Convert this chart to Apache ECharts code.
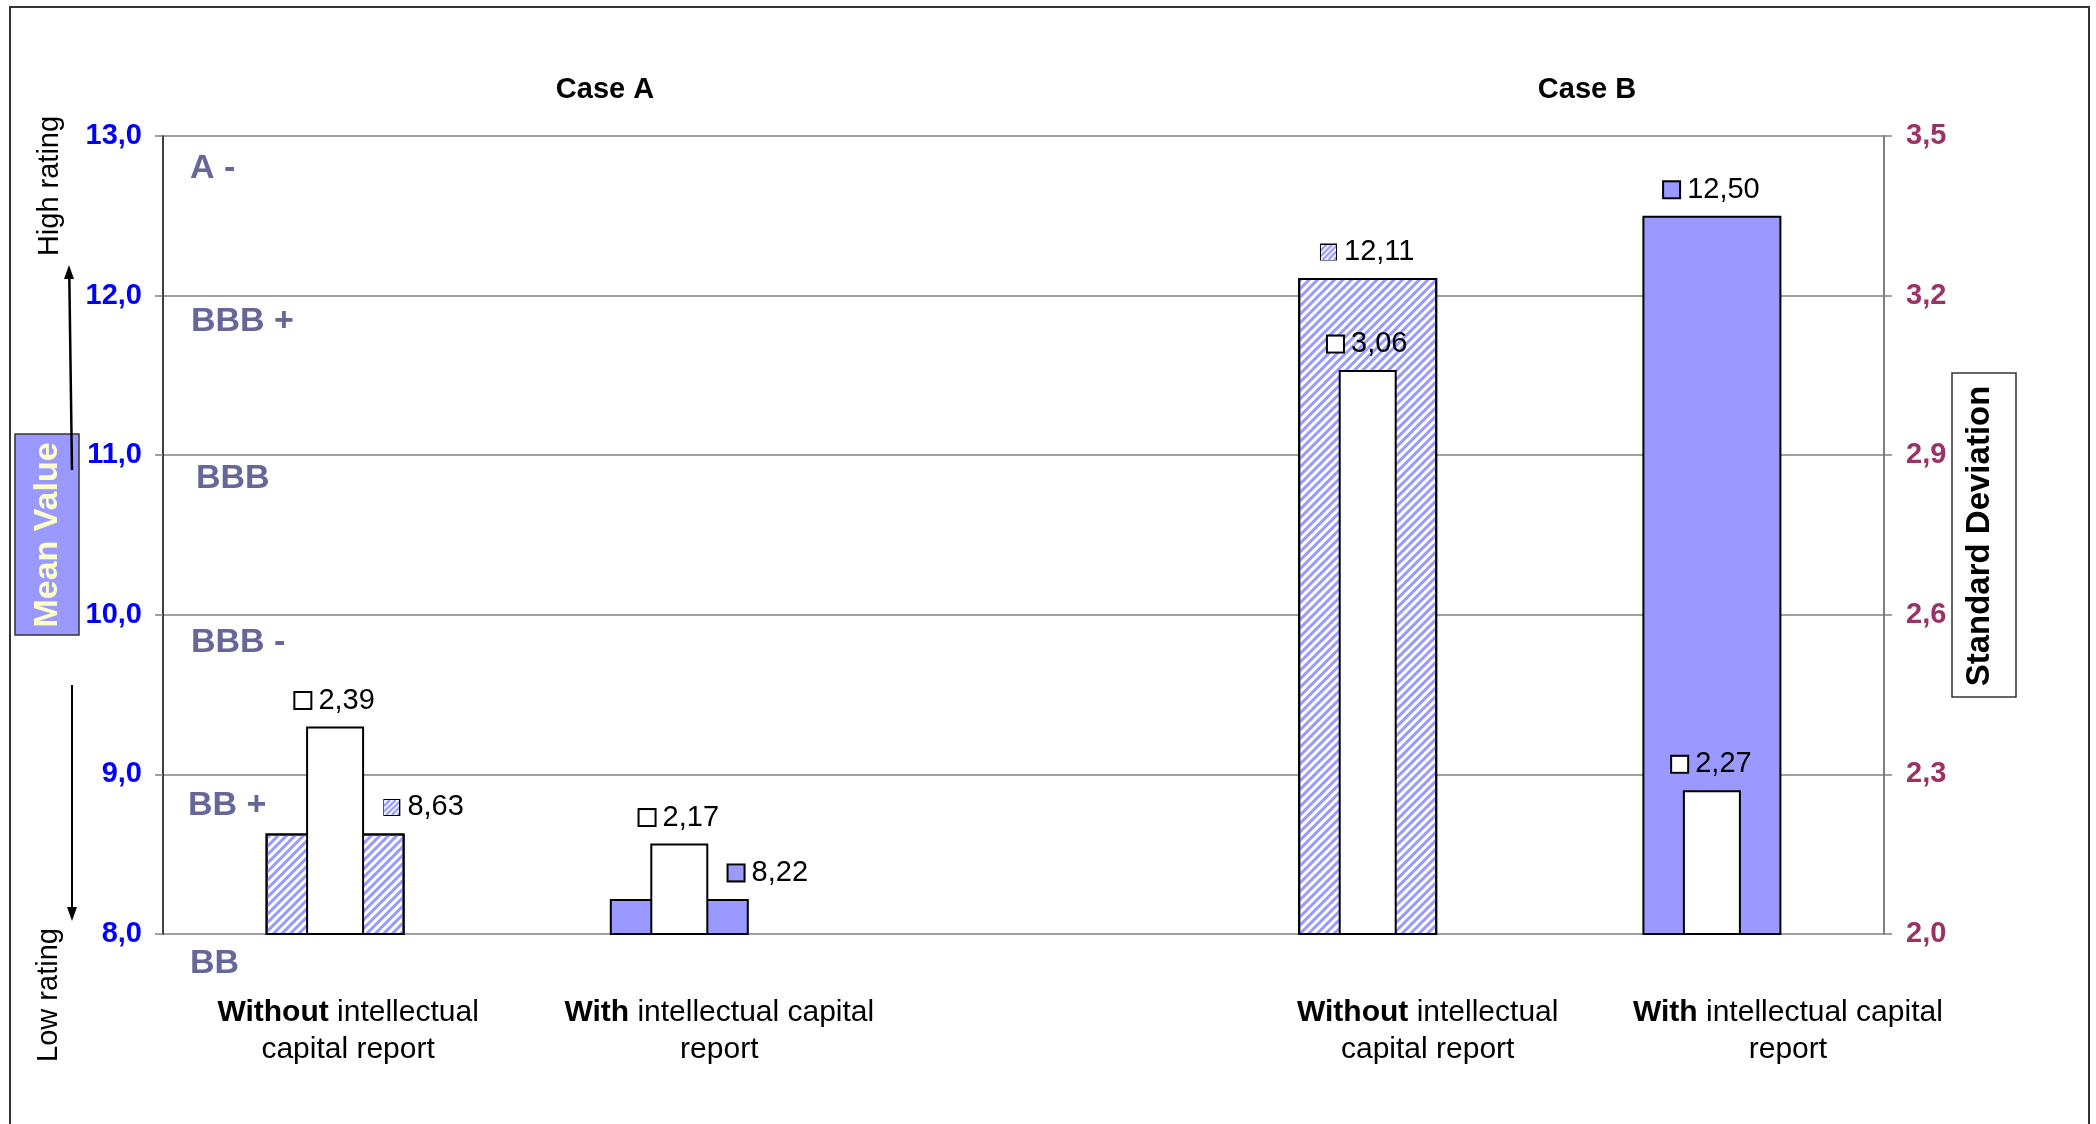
<!DOCTYPE html>
<html>
<head>
<meta charset="utf-8">
<script src="https://cdn.jsdelivr.net/npm/echarts@6/dist/echarts.min.js"></script>
<style>
html,body{margin:0;padding:0;background:#fff;}
#chart{width:2096px;height:1124px;}
</style>
</head>
<body>
<div id="chart"></div>
<script>
// ---- data ----
const categories = [
  'Without intellectual\ncapital report',
  'With intellectual capital\nreport',
  '',
  'Without intellectual\ncapital report',
  'With intellectual capital\nreport'
];
const meanValues = [8.63, 8.22, '-', 12.11, 12.50];
const stdDevValues = [2.39, 2.17, '-', 3.06, 2.27];
const caseTitles = ['Case A', 'Case B'];
const ratingLabels = ['A -', 'BBB +', 'BBB', 'BBB -', 'BB +', 'BB'];
const meanAxisName = 'Mean Value';
const stdAxisName = 'Standard Deviation';
const highLowLabels = ['High rating', 'Low rating'];

// ---- styling ----
const FONT = '"Liberation Sans", Arial, sans-serif';
const PURPLE = '#9999FF';
const fmt = v => Number(v).toFixed(2).replace('.', ',');
const isWithout = i => categories[i].indexOf('Without') === 0;
// horizontal shift (px) of each category label, as placed in the original
const catLabelShift = [13, 40, 0, 60, 76];

function makeHatch(w, h) {
  const c = document.createElement('canvas');
  c.width = w; c.height = h;
  const g = c.getContext('2d');
  g.fillStyle = '#fff'; g.fillRect(0, 0, w, h);
  g.strokeStyle = PURPLE; g.lineWidth = 2.5;
  for (let k = -h; k < w + h; k += 6) {
    g.beginPath(); g.moveTo(k, h); g.lineTo(k + h, 0); g.stroke();
  }
  return c;
}
const hatchIcon = makeHatch(16, 16);

const hatchStyle = {
  color: '#fff', borderColor: '#000', borderWidth: 2,
  decal: { symbol: 'rect', symbolSize: 1, color: PURPLE, dashArrayX: [1, 0], dashArrayY: [3, 3], rotation: -Math.PI / 4 }
};
const solidStyle = { color: PURPLE, borderColor: '#000', borderWidth: 2 };

const iconBase = { width: 15, height: 15, borderColor: '#000', borderWidth: 2 };
const labelRich = {
  iw: Object.assign({}, iconBase, { backgroundColor: '#fff' }),
  is: Object.assign({}, iconBase, { backgroundColor: PURPLE }),
  ih: Object.assign({}, iconBase, { backgroundColor: { image: hatchIcon } }),
  v: { fontSize: 29, lineHeight: 32, color: '#000', fontFamily: FONT }
};

const meanData = meanValues.map((v, i) => ({
  value: v,
  itemStyle: isWithout(i) ? hatchStyle : solidStyle,
  label: { offset: i < 2 ? [89, 0] : [0, 0] }
}));
const stdData = stdDevValues.map(v => ({ value: v }));
const catData = categories.map((c, i) => ({ value: c, textStyle: { padding: [0, 0, 0, 2 * catLabelShift[i]] } }));

const chart = echarts.init(document.getElementById('chart'), null, { renderer: 'canvas' });

const option = {
  animation: false,
  backgroundColor: '#fff',
  grid: { left: 163, right: 212, top: 136, bottom: 190, containLabel: false },
  xAxis: [
    {
      type: 'category', data: catData, gridIndex: 0,
      axisLine: { show: false }, axisTick: { show: false },
      axisLabel: {
        interval: 0, margin: 60, color: '#000', fontSize: 30, lineHeight: 37, fontFamily: FONT,
        formatter: v => {
          if (!v) return '';
          const i = v.indexOf(' ');
          return '{b|' + v.slice(0, i) + '}' + v.slice(i);
        },
        rich: { b: { fontWeight: 'bold', fontSize: 30, lineHeight: 37, fontFamily: FONT, color: '#000' } }
      }
    },
    { type: 'category', data: categories, gridIndex: 0, show: false }
  ],
  yAxis: [
    {
      type: 'value', min: 8, max: 13, interval: 1, position: 'left',
      axisLine: { show: true, lineStyle: { color: '#000', width: 1.5 } },
      axisTick: { show: true, length: 8, lineStyle: { color: '#808080', width: 1.5 } },
      splitLine: { show: true, lineStyle: { color: '#808080', width: 1.5 } },
      axisLabel: {
        color: '#0000FF', fontWeight: 'bold', fontSize: 29, fontFamily: FONT, margin: 21,
        padding: [2, 0, 0, 0],
        formatter: v => v.toFixed(1).replace('.', ',')
      }
    },
    {
      type: 'value', min: 2.0, max: 3.5, interval: 0.3, position: 'right',
      axisLine: { show: true, lineStyle: { color: '#808080', width: 2 } },
      axisTick: { show: true, length: 8, lineStyle: { color: '#808080', width: 1.5 } },
      splitLine: { show: false },
      axisLabel: {
        color: '#993366', fontWeight: 'bold', fontSize: 29, fontFamily: FONT, margin: 22,
        padding: [4, 0, 0, 0],
        formatter: v => v.toFixed(1).replace('.', ',')
      }
    }
  ],
  series: [
    {
      name: meanAxisName, type: 'bar', xAxisIndex: 0, yAxisIndex: 0,
      barWidth: 139, data: meanData, z: 2,
      label: {
        show: true, position: 'top', distance: 10, color: '#000', fontSize: 29, fontFamily: FONT,
        formatter: p => (isWithout(p.dataIndex) ? '{ih|}' : '{is|}') + ' {v|' + fmt(p.value) + '}',
        rich: labelRich
      }
    },
    {
      name: stdAxisName, type: 'bar', xAxisIndex: 1, yAxisIndex: 1,
      barWidth: 58, data: stdData, z: 3,
      itemStyle: { color: '#fff', borderColor: '#000', borderWidth: 2 },
      label: {
        show: true, position: 'top', distance: 10, color: '#000', fontSize: 29, fontFamily: FONT,
        formatter: p => '{iw|} {v|' + fmt(p.value) + '}',
        rich: labelRich
      }
    }
  ],
  graphic: [
    // outer frame
    { type: 'rect', shape: { x: 10, y: 7, width: 2079, height: 1130 }, style: { fill: 'none', stroke: '#333', lineWidth: 2 }, z: 0, silent: true },
    // case titles
    { type: 'text', x: 605, y: 90, style: { text: caseTitles[0], font: 'bold 29px ' + FONT, fill: '#000', align: 'center', verticalAlign: 'middle' } },
    { type: 'text', x: 1587, y: 90, style: { text: caseTitles[1], font: 'bold 29px ' + FONT, fill: '#000', align: 'center', verticalAlign: 'middle' } },
    // rating labels
    { type: 'text', x: 190, y: 169, style: { text: ratingLabels[0], font: 'bold 34px ' + FONT, fill: '#666699', align: 'left', verticalAlign: 'middle' } },
    { type: 'text', x: 191, y: 322, style: { text: ratingLabels[1], font: 'bold 34px ' + FONT, fill: '#666699', align: 'left', verticalAlign: 'middle' } },
    { type: 'text', x: 196, y: 479, style: { text: ratingLabels[2], font: 'bold 34px ' + FONT, fill: '#666699', align: 'left', verticalAlign: 'middle' } },
    { type: 'text', x: 191, y: 643, style: { text: ratingLabels[3], font: 'bold 34px ' + FONT, fill: '#666699', align: 'left', verticalAlign: 'middle' } },
    { type: 'text', x: 188, y: 806, style: { text: ratingLabels[4], font: 'bold 34px ' + FONT, fill: '#666699', align: 'left', verticalAlign: 'middle' } },
    { type: 'text', x: 190, y: 964, style: { text: ratingLabels[5], font: 'bold 34px ' + FONT, fill: '#666699', align: 'left', verticalAlign: 'middle' } },
    // Mean value box
    { type: 'rect', shape: { x: 15, y: 434, width: 64, height: 201 }, style: { fill: PURPLE, stroke: '#333', lineWidth: 1.5 } },
    { type: 'text', x: 48, y: 535, rotation: Math.PI / 2, style: { text: meanAxisName, font: 'bold 34px ' + FONT, fill: '#FFFFCC', align: 'center', verticalAlign: 'middle' }, z: 10 },
    // arrows
    { type: 'line', shape: { x1: 72, y1: 470, x2: 69.3, y2: 276 }, style: { stroke: '#000', lineWidth: 2.5 }, z: 11 },
    { type: 'polygon', shape: { points: [[64, 279], [74, 279], [69, 265]] }, style: { fill: '#000' }, z: 11 },
    { type: 'line', shape: { x1: 72, y1: 685, x2: 72, y2: 910 }, style: { stroke: '#000', lineWidth: 2 }, z: 11 },
    { type: 'polygon', shape: { points: [[67, 907], [77, 907], [72, 921]] }, style: { fill: '#000' }, z: 11 },
    { type: 'text', x: 50, y: 186, rotation: Math.PI / 2, style: { text: highLowLabels[0], font: '29px ' + FONT, fill: '#000', align: 'center', verticalAlign: 'middle' } },
    { type: 'text', x: 49, y: 995, rotation: Math.PI / 2, style: { text: highLowLabels[1], font: '29px ' + FONT, fill: '#000', align: 'center', verticalAlign: 'middle' } },
    // Standard deviation box
    { type: 'rect', shape: { x: 1952, y: 373, width: 64, height: 324 }, style: { fill: '#fff', stroke: '#333', lineWidth: 1.5 } },
    { type: 'text', x: 1980, y: 536, rotation: Math.PI / 2, style: { text: stdAxisName, font: 'bold 33px ' + FONT, fill: '#000', align: 'center', verticalAlign: 'middle' }, z: 10 }
  ]
};
chart.setOption(option);
</script>
</body>
</html>
